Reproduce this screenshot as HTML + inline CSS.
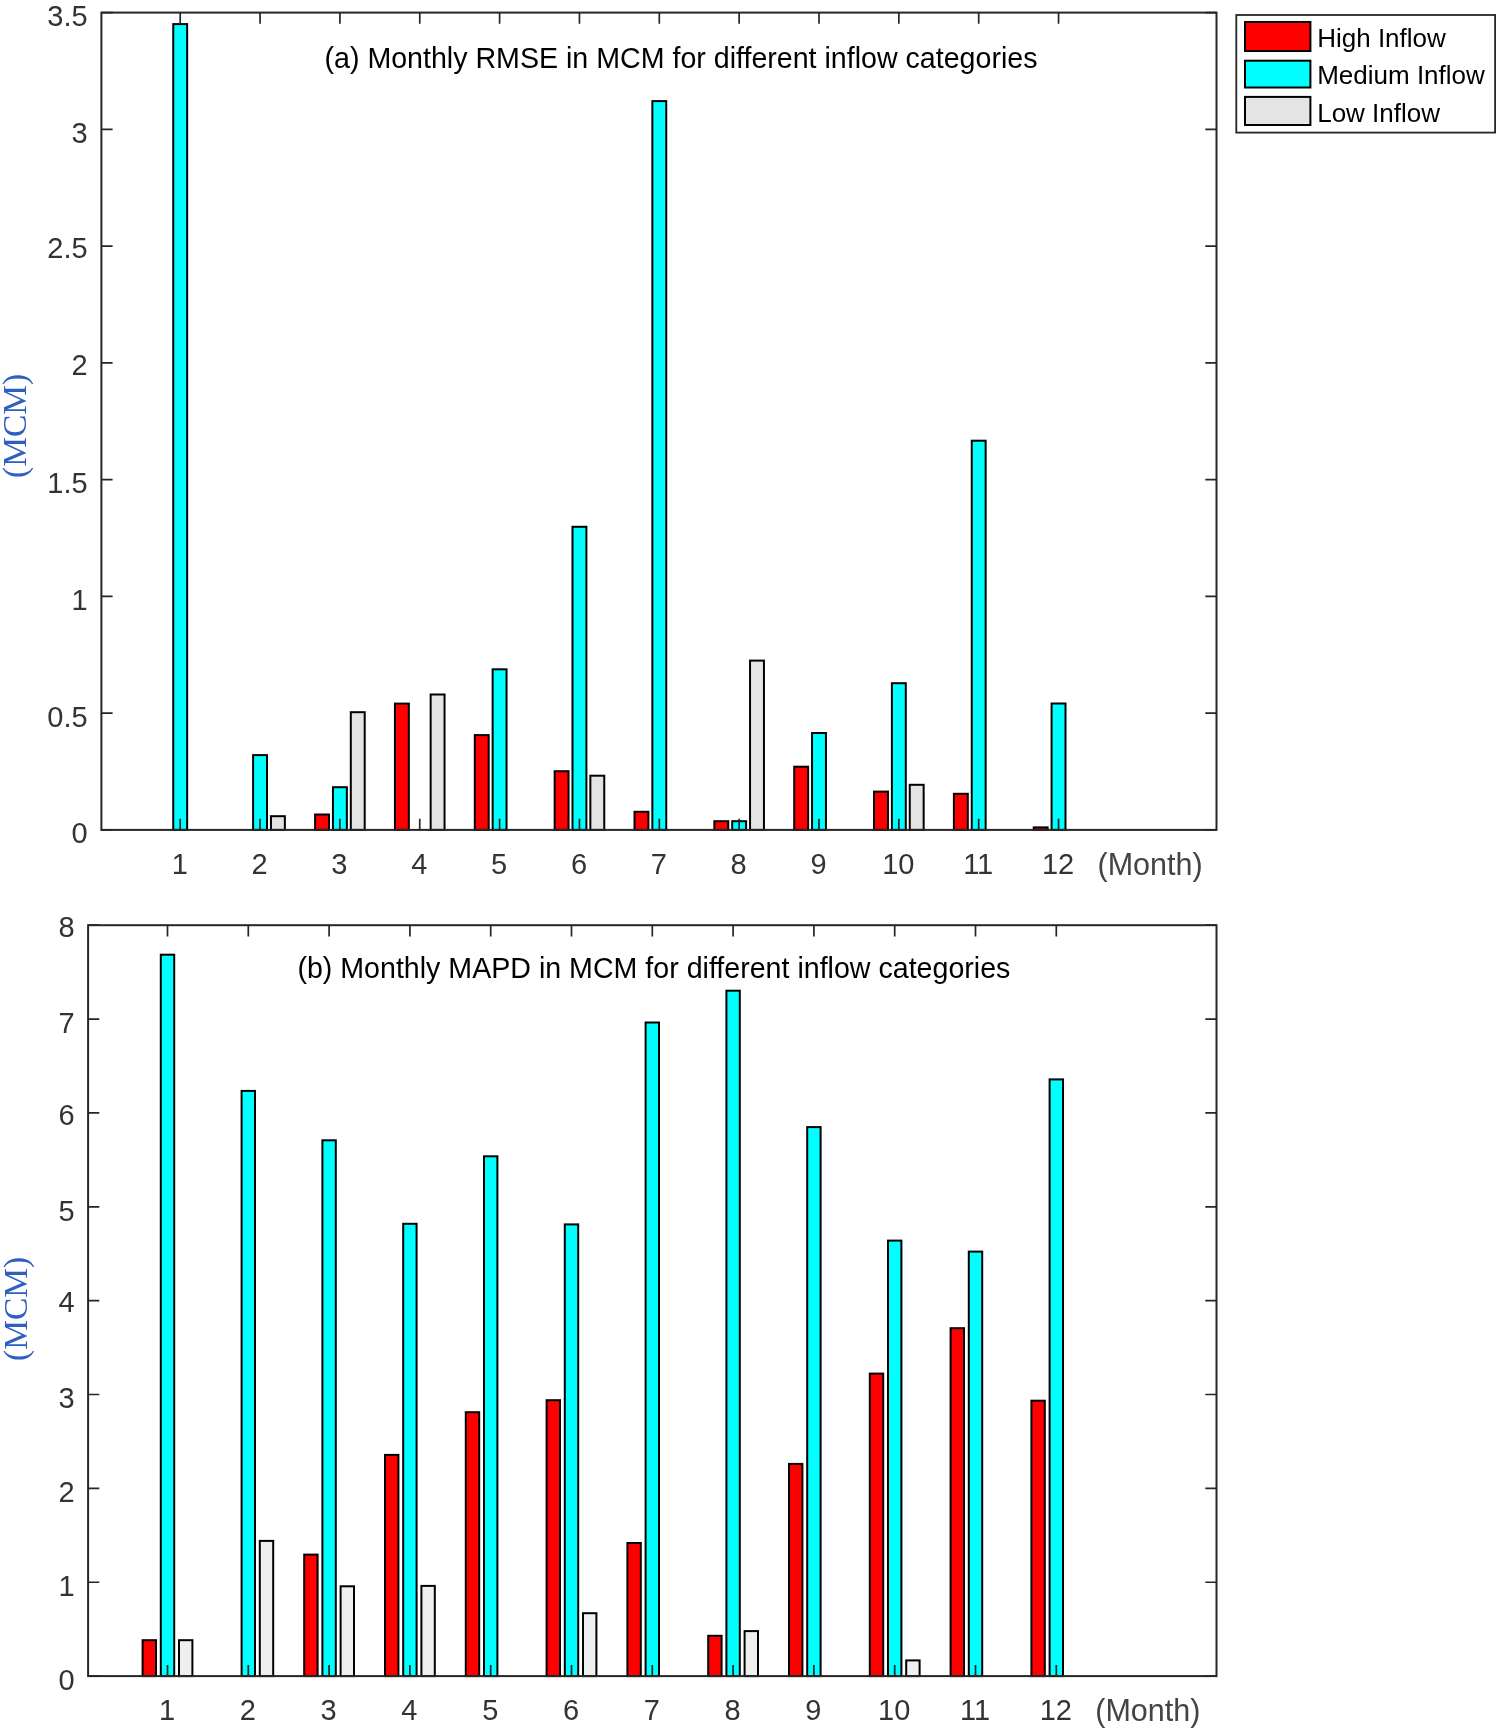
<!DOCTYPE html>
<html><head><meta charset="utf-8"><style>
html,body{margin:0;padding:0;background:#fff;}
body{width:1498px;height:1731px;overflow:hidden;}
svg{display:block;will-change:transform;}
text{font-family:"Liberation Sans",sans-serif;}
.tk{font-size:29px;fill:#333;}
.mo{font-size:30.5px;fill:#444;}
.ti{font-size:28.6px;fill:#000;}
.lg{font-size:26px;fill:#000;}
.yl{font-family:"Liberation Serif",serif;font-size:33.5px;fill:#2f5fc0;}
</style></head><body>
<svg width="1498" height="1731" viewBox="0 0 1498 1731">
<rect width="1498" height="1731" fill="#fff"/>
<rect x="173.25" y="24.1" width="13.9" height="805.8" fill="#00ffff" stroke="#000" stroke-width="2"/>
<rect x="253.1" y="755.1" width="13.9" height="74.8" fill="#00ffff" stroke="#000" stroke-width="2"/>
<rect x="270.95" y="816.2" width="13.9" height="13.7" fill="#e4e4e4" stroke="#000" stroke-width="2"/>
<rect x="315.1" y="814.5" width="13.9" height="15.4" fill="#ff0000" stroke="#000" stroke-width="2"/>
<rect x="332.95" y="787.2" width="13.9" height="42.7" fill="#00ffff" stroke="#000" stroke-width="2"/>
<rect x="350.8" y="712.2" width="13.9" height="117.7" fill="#e4e4e4" stroke="#000" stroke-width="2"/>
<rect x="394.95" y="703.6" width="13.9" height="126.3" fill="#ff0000" stroke="#000" stroke-width="2"/>
<rect x="430.65" y="694.5" width="13.9" height="135.4" fill="#e4e4e4" stroke="#000" stroke-width="2"/>
<rect x="474.8" y="735.1" width="13.9" height="94.8" fill="#ff0000" stroke="#000" stroke-width="2"/>
<rect x="492.65" y="669.3" width="13.9" height="160.6" fill="#00ffff" stroke="#000" stroke-width="2"/>
<rect x="554.65" y="771.2" width="13.9" height="58.7" fill="#ff0000" stroke="#000" stroke-width="2"/>
<rect x="572.5" y="526.8" width="13.9" height="303.1" fill="#00ffff" stroke="#000" stroke-width="2"/>
<rect x="590.35" y="775.7" width="13.9" height="54.2" fill="#e4e4e4" stroke="#000" stroke-width="2"/>
<rect x="634.5" y="811.8" width="13.9" height="18.1" fill="#ff0000" stroke="#000" stroke-width="2"/>
<rect x="652.35" y="101.1" width="13.9" height="728.8" fill="#00ffff" stroke="#000" stroke-width="2"/>
<rect x="714.35" y="821.2" width="13.9" height="8.7" fill="#ff0000" stroke="#000" stroke-width="2"/>
<rect x="732.2" y="821.2" width="13.9" height="8.7" fill="#00ffff" stroke="#000" stroke-width="2"/>
<rect x="750.05" y="660.6" width="13.9" height="169.3" fill="#e4e4e4" stroke="#000" stroke-width="2"/>
<rect x="794.2" y="766.7" width="13.9" height="63.2" fill="#ff0000" stroke="#000" stroke-width="2"/>
<rect x="812.05" y="733" width="13.9" height="96.9" fill="#00ffff" stroke="#000" stroke-width="2"/>
<rect x="874.05" y="791.6" width="13.9" height="38.3" fill="#ff0000" stroke="#000" stroke-width="2"/>
<rect x="891.9" y="683.2" width="13.9" height="146.7" fill="#00ffff" stroke="#000" stroke-width="2"/>
<rect x="909.75" y="784.8" width="13.9" height="45.1" fill="#e4e4e4" stroke="#000" stroke-width="2"/>
<rect x="953.9" y="793.8" width="13.9" height="36.1" fill="#ff0000" stroke="#000" stroke-width="2"/>
<rect x="971.75" y="440.7" width="13.9" height="389.2" fill="#00ffff" stroke="#000" stroke-width="2"/>
<rect x="1033.75" y="827.4" width="13.9" height="2.5" fill="#ff0000" stroke="#000" stroke-width="2"/>
<rect x="1051.6" y="703.5" width="13.9" height="126.4" fill="#00ffff" stroke="#000" stroke-width="2"/>
<rect x="101.4" y="12.6" width="1115.1" height="817.3" fill="none" stroke="#262626" stroke-width="2"/>
<path d="M180.2 829.9V818.7M180.2 12.6V23.8M260.05 829.9V818.7M260.05 12.6V23.8M339.9 829.9V818.7M339.9 12.6V23.8M419.75 829.9V818.7M419.75 12.6V23.8M499.6 829.9V818.7M499.6 12.6V23.8M579.45 829.9V818.7M579.45 12.6V23.8M659.3 829.9V818.7M659.3 12.6V23.8M739.15 829.9V818.7M739.15 12.6V23.8M819 829.9V818.7M819 12.6V23.8M898.85 829.9V818.7M898.85 12.6V23.8M978.7 829.9V818.7M978.7 12.6V23.8M1058.55 829.9V818.7M1058.55 12.6V23.8M101.4 829.9H112.6M1216.5 829.9H1205.3M101.4 713.15H112.6M1216.5 713.15H1205.3M101.4 596.4H112.6M1216.5 596.4H1205.3M101.4 479.65H112.6M1216.5 479.65H1205.3M101.4 362.9H112.6M1216.5 362.9H1205.3M101.4 246.15H112.6M1216.5 246.15H1205.3M101.4 129.4H112.6M1216.5 129.4H1205.3M101.4 12.65H112.6M1216.5 12.65H1205.3" stroke="#262626" stroke-width="1.7" fill="none"/>
<text x="87.6" y="843.2" class="tk" text-anchor="end">0</text>
<text x="87.6" y="726.95" class="tk" text-anchor="end">0.5</text>
<text x="87.6" y="610.2" class="tk" text-anchor="end">1</text>
<text x="87.6" y="493.45" class="tk" text-anchor="end">1.5</text>
<text x="87.6" y="374.7" class="tk" text-anchor="end">2</text>
<text x="87.6" y="258.45" class="tk" text-anchor="end">2.5</text>
<text x="87.6" y="143.2" class="tk" text-anchor="end">3</text>
<text x="87.6" y="26.45" class="tk" text-anchor="end">3.5</text>
<text x="179.7" y="874" class="tk" text-anchor="middle">1</text>
<text x="259.55" y="874" class="tk" text-anchor="middle">2</text>
<text x="339.4" y="874" class="tk" text-anchor="middle">3</text>
<text x="419.25" y="874" class="tk" text-anchor="middle">4</text>
<text x="499.1" y="874" class="tk" text-anchor="middle">5</text>
<text x="578.95" y="874" class="tk" text-anchor="middle">6</text>
<text x="658.8" y="874" class="tk" text-anchor="middle">7</text>
<text x="738.65" y="874" class="tk" text-anchor="middle">8</text>
<text x="818.5" y="874" class="tk" text-anchor="middle">9</text>
<text x="898.35" y="874" class="tk" text-anchor="middle">10</text>
<text x="978.2" y="874" class="tk" text-anchor="middle">11</text>
<text x="1058.05" y="874" class="tk" text-anchor="middle">12</text>
<text x="1097.5" y="874.5" class="mo">(Month)</text>
<text x="324.5" y="68.2" class="ti">(a) Monthly RMSE in MCM for different inflow categories</text>
<text transform="translate(26 425.9) rotate(-90)" class="yl" text-anchor="middle">(MCM)</text>
<rect x="142.6" y="1640.2" width="13.4" height="35.9" fill="#ff0000" stroke="#000" stroke-width="2"/>
<rect x="160.8" y="954.7" width="13.4" height="721.4" fill="#00ffff" stroke="#000" stroke-width="2"/>
<rect x="179" y="1640.2" width="13.4" height="35.9" fill="#efefef" stroke="#000" stroke-width="2"/>
<rect x="241.6" y="1090.9" width="13.4" height="585.2" fill="#00ffff" stroke="#000" stroke-width="2"/>
<rect x="259.8" y="1540.9" width="13.4" height="135.2" fill="#efefef" stroke="#000" stroke-width="2"/>
<rect x="304.2" y="1554.6" width="13.4" height="121.5" fill="#ff0000" stroke="#000" stroke-width="2"/>
<rect x="322.4" y="1140.3" width="13.4" height="535.8" fill="#00ffff" stroke="#000" stroke-width="2"/>
<rect x="340.6" y="1586.3" width="13.4" height="89.8" fill="#efefef" stroke="#000" stroke-width="2"/>
<rect x="385" y="1454.9" width="13.4" height="221.2" fill="#ff0000" stroke="#000" stroke-width="2"/>
<rect x="403.2" y="1223.8" width="13.4" height="452.3" fill="#00ffff" stroke="#000" stroke-width="2"/>
<rect x="421.4" y="1585.9" width="13.4" height="90.2" fill="#efefef" stroke="#000" stroke-width="2"/>
<rect x="465.8" y="1412.2" width="13.4" height="263.9" fill="#ff0000" stroke="#000" stroke-width="2"/>
<rect x="484" y="1156.3" width="13.4" height="519.8" fill="#00ffff" stroke="#000" stroke-width="2"/>
<rect x="546.6" y="1400.2" width="13.4" height="275.9" fill="#ff0000" stroke="#000" stroke-width="2"/>
<rect x="564.8" y="1224.4" width="13.4" height="451.7" fill="#00ffff" stroke="#000" stroke-width="2"/>
<rect x="583" y="1613.2" width="13.4" height="62.9" fill="#efefef" stroke="#000" stroke-width="2"/>
<rect x="627.4" y="1543" width="13.4" height="133.1" fill="#ff0000" stroke="#000" stroke-width="2"/>
<rect x="645.6" y="1022.5" width="13.4" height="653.6" fill="#00ffff" stroke="#000" stroke-width="2"/>
<rect x="708.2" y="1635.8" width="13.4" height="40.3" fill="#ff0000" stroke="#000" stroke-width="2"/>
<rect x="726.4" y="990.7" width="13.4" height="685.4" fill="#00ffff" stroke="#000" stroke-width="2"/>
<rect x="744.6" y="1631.1" width="13.4" height="45" fill="#efefef" stroke="#000" stroke-width="2"/>
<rect x="789" y="1463.9" width="13.4" height="212.2" fill="#ff0000" stroke="#000" stroke-width="2"/>
<rect x="807.2" y="1127.1" width="13.4" height="549" fill="#00ffff" stroke="#000" stroke-width="2"/>
<rect x="869.8" y="1373.6" width="13.4" height="302.5" fill="#ff0000" stroke="#000" stroke-width="2"/>
<rect x="888" y="1240.6" width="13.4" height="435.5" fill="#00ffff" stroke="#000" stroke-width="2"/>
<rect x="906.2" y="1660.4" width="13.4" height="15.7" fill="#efefef" stroke="#000" stroke-width="2"/>
<rect x="950.6" y="1328.2" width="13.4" height="347.9" fill="#ff0000" stroke="#000" stroke-width="2"/>
<rect x="968.8" y="1251.6" width="13.4" height="424.5" fill="#00ffff" stroke="#000" stroke-width="2"/>
<rect x="1031.4" y="1400.7" width="13.4" height="275.4" fill="#ff0000" stroke="#000" stroke-width="2"/>
<rect x="1049.6" y="1079.4" width="13.4" height="596.7" fill="#00ffff" stroke="#000" stroke-width="2"/>
<rect x="88.1" y="925.2" width="1128.4" height="750.9" fill="none" stroke="#262626" stroke-width="2"/>
<path d="M167.5 1676.1V1664.9M167.5 925.2V936.4M248.3 1676.1V1664.9M248.3 925.2V936.4M329.1 1676.1V1664.9M329.1 925.2V936.4M409.9 1676.1V1664.9M409.9 925.2V936.4M490.7 1676.1V1664.9M490.7 925.2V936.4M571.5 1676.1V1664.9M571.5 925.2V936.4M652.3 1676.1V1664.9M652.3 925.2V936.4M733.1 1676.1V1664.9M733.1 925.2V936.4M813.9 1676.1V1664.9M813.9 925.2V936.4M894.7 1676.1V1664.9M894.7 925.2V936.4M975.5 1676.1V1664.9M975.5 925.2V936.4M1056.3 1676.1V1664.9M1056.3 925.2V936.4M88.1 1676.1H99.3M1216.5 1676.1H1205.3M88.1 1582.24H99.3M1216.5 1582.24H1205.3M88.1 1488.38H99.3M1216.5 1488.38H1205.3M88.1 1394.52H99.3M1216.5 1394.52H1205.3M88.1 1300.66H99.3M1216.5 1300.66H1205.3M88.1 1206.8H99.3M1216.5 1206.8H1205.3M88.1 1112.94H99.3M1216.5 1112.94H1205.3M88.1 1019.08H99.3M1216.5 1019.08H1205.3M88.1 925.22H99.3M1216.5 925.22H1205.3" stroke="#262626" stroke-width="1.7" fill="none"/>
<text x="74.6" y="1689.9" class="tk" text-anchor="end">0</text>
<text x="74.6" y="1596.04" class="tk" text-anchor="end">1</text>
<text x="74.6" y="1502.18" class="tk" text-anchor="end">2</text>
<text x="74.6" y="1408.32" class="tk" text-anchor="end">3</text>
<text x="74.6" y="1312.46" class="tk" text-anchor="end">4</text>
<text x="74.6" y="1220.6" class="tk" text-anchor="end">5</text>
<text x="74.6" y="1125.24" class="tk" text-anchor="end">6</text>
<text x="74.6" y="1032.88" class="tk" text-anchor="end">7</text>
<text x="74.6" y="936.52" class="tk" text-anchor="end">8</text>
<text x="167" y="1720.3" class="tk" text-anchor="middle">1</text>
<text x="247.8" y="1720.3" class="tk" text-anchor="middle">2</text>
<text x="328.6" y="1720.3" class="tk" text-anchor="middle">3</text>
<text x="409.4" y="1720.3" class="tk" text-anchor="middle">4</text>
<text x="490.2" y="1720.3" class="tk" text-anchor="middle">5</text>
<text x="571" y="1720.3" class="tk" text-anchor="middle">6</text>
<text x="651.8" y="1720.3" class="tk" text-anchor="middle">7</text>
<text x="732.6" y="1720.3" class="tk" text-anchor="middle">8</text>
<text x="813.4" y="1720.3" class="tk" text-anchor="middle">9</text>
<text x="894.2" y="1720.3" class="tk" text-anchor="middle">10</text>
<text x="975" y="1720.3" class="tk" text-anchor="middle">11</text>
<text x="1055.8" y="1720.3" class="tk" text-anchor="middle">12</text>
<text x="1095.3" y="1721.3" class="mo">(Month)</text>
<text x="297.4" y="978.4" class="ti">(b) Monthly MAPD in MCM for different inflow categories</text>
<text transform="translate(27 1308.9) rotate(-90)" class="yl" text-anchor="middle">(MCM)</text>
<rect x="1236.3" y="15" width="258.8" height="117.6" fill="#fff" stroke="#262626" stroke-width="1.8"/>
<rect x="1245" y="22" width="65.4" height="29" fill="#ff0000" stroke="#000" stroke-width="2"/>
<text x="1317.2" y="47.4" class="lg">High Inflow</text>
<rect x="1245" y="60.7" width="65.4" height="26.8" fill="#00ffff" stroke="#000" stroke-width="2"/>
<text x="1317.2" y="84" class="lg">Medium Inflow</text>
<rect x="1245" y="96.9" width="65.4" height="28.1" fill="#e4e4e4" stroke="#000" stroke-width="2"/>
<text x="1317.2" y="122.3" class="lg">Low Inflow</text>
</svg>
</body></html>
